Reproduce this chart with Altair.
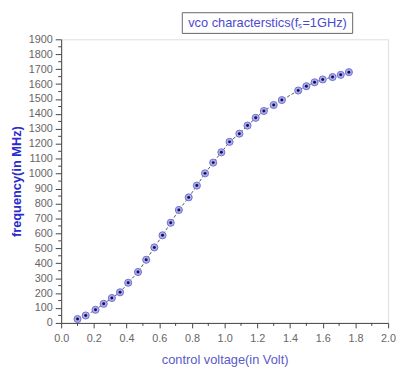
import altair as alt
import pandas as pd

# control voltage (V) and frequency (MHz)
voltage = [0.10, 0.15, 0.21, 0.26, 0.31, 0.36, 0.41, 0.47, 0.52, 0.57, 0.62, 0.67,
           0.72, 0.78, 0.83, 0.88, 0.93, 0.98, 1.03, 1.09, 1.14, 1.19, 1.24, 1.30,
           1.35, 1.45, 1.50, 1.55, 1.60, 1.66, 1.71, 1.76]
frequency = [26, 50, 88, 128, 167, 205, 269, 341, 423, 506, 587, 671,
             757, 841, 920, 1002, 1074, 1143, 1213, 1268, 1322, 1374, 1420, 1460,
             1493, 1557, 1586, 1612, 1631, 1647, 1662, 1680]

y_major = list(range(0, 1901, 100))
y_minor = list(range(50, 1900, 100))
x_major = [0.0, 0.2, 0.4, 0.6, 0.8, 1.0, 1.2, 1.4, 1.6, 1.8, 2.0]
x_minor = [0.1, 0.3, 0.5, 0.7, 0.9, 1.1, 1.3, 1.5, 1.7, 1.9]

title_text = "vco characterstics(f\u209b=1GHz)"

df = pd.DataFrame({"v": voltage, "f": frequency})
ymin_df = pd.DataFrame({"f": y_minor})
xmin_df = pd.DataFrame({"v": x_minor})

W, H = 332, 288
FONT = "Liberation Sans"

xscale = alt.Scale(domain=[0, 2.0], nice=False, zero=False)
yscale = alt.Scale(domain=[0, 1900], nice=False)

xaxis = alt.Axis(values=x_major, format=".1f", tickSize=5, labelPadding=5,
                 labelOverlap=False, labelFlush=False,
                 title="control voltage(in Volt)", titleColor="#5a5ac8",
                 titleFontWeight="normal", titleFontSize=13, titlePadding=10,
                 labelColor="#666666", labelFontSize=11, grid=False,
                 domainColor="#444444", tickColor="#444444", labelFont=FONT, titleFont=FONT)
yaxis = alt.Axis(values=y_major, format="d", tickSize=6, labelPadding=3,
                 labelOverlap=False, labelFlush=False,
                 title="frequency(in MHz)", titleColor="#2a2ad0",
                 titleFontWeight="bold", titleFontSize=13, titlePadding=5,
                 labelColor="#666666", labelFontSize=11, grid=False,
                 domainColor="#444444", tickColor="#444444", labelFont=FONT, titleFont=FONT)

X = alt.X("v:Q", scale=xscale, axis=xaxis)
Y = alt.Y("f:Q", scale=yscale, axis=yaxis)

base = alt.Chart(df)

line = base.mark_line(color="#555555", strokeWidth=1, strokeDash=[3, 2]).encode(x=X, y=Y)

outer = base.mark_point(shape="circle", filled=True, size=52, color="#adadec",
                        stroke="#7070d4", strokeWidth=1, opacity=1).encode(x=X, y=Y)

inner = base.mark_point(shape="circle", filled=True, size=9, color="#10104a",
                        opacity=1).encode(x=X, y=Y)

yminor = alt.Chart(ymin_df).mark_rule(color="#444444", strokeWidth=1).encode(
    y=Y, x=alt.value(-3), x2=alt.value(0))

xminor = alt.Chart(xmin_df).mark_rule(color="#444444", strokeWidth=1).encode(
    x=X, y=alt.value(H), y2=alt.value(H + 3))

box = alt.Chart(pd.DataFrame({"t": [title_text]})).mark_rect(
    fill="white", stroke="#666666", strokeWidth=1).encode(
    x=alt.value(123), x2=alt.value(296), y=alt.value(-27), y2=alt.value(-6))

label = alt.Chart(pd.DataFrame({"t": [title_text]})).mark_text(
    font=FONT, fontSize=13, color="#4a4ad0", align="center", baseline="middle").encode(
    x=alt.value(209.5), y=alt.value(-16.5), text="t:N")

chart = alt.layer(line, outer, inner, yminor, xminor, box, label).properties(
    width=W, height=H,
    autosize=alt.AutoSizeParams(type="none"),
    padding={"left": 54, "top": 29, "right": 8, "bottom": 45},
).configure_view(stroke=None).configure(background="white")

chart.save("out.html", embed_options={"renderer": "svg", "actions": False})
